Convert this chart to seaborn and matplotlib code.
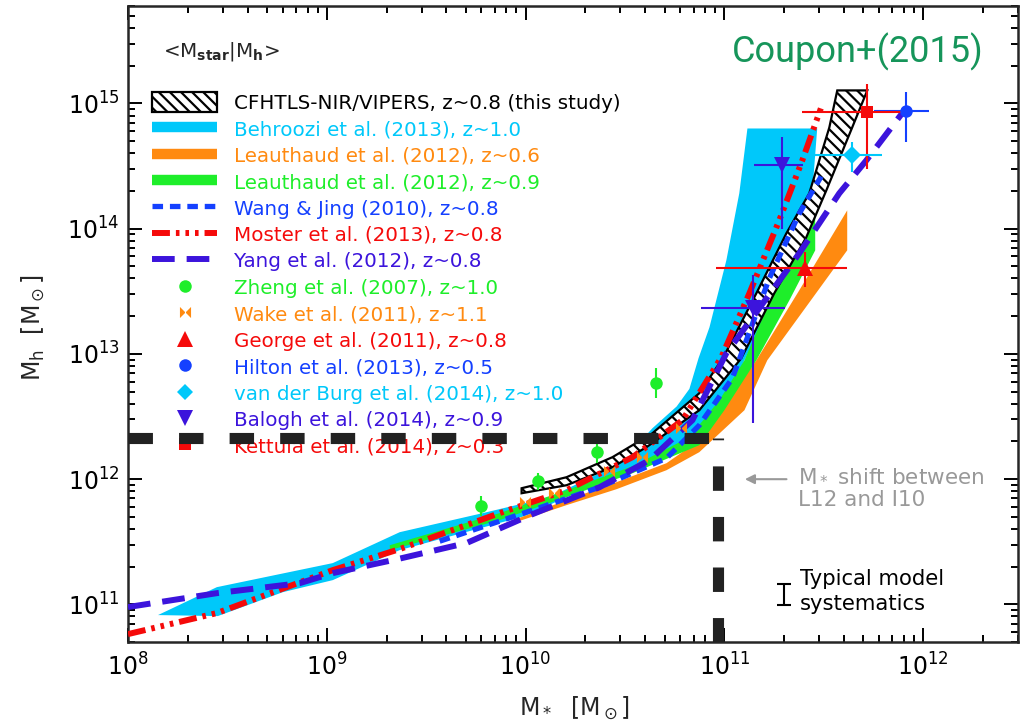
import numpy as np
import pandas as pd
import seaborn as sns
import matplotlib
matplotlib.use("Agg")
import matplotlib.pyplot as plt
from matplotlib.lines import Line2D
from matplotlib.patches import Patch
from matplotlib.path import Path

# all values are log10(M / Msun)

# bands: upper (left) edge going up in mass, then lower (right) edge coming back down
behroozi_logms = [8.151, 8.447, 9.030, 9.367, 9.784, 10.121, 10.372, 10.538, 10.638, 10.760, 10.824,
                  10.870, 10.925, 11.010, 11.075, 11.116, 11.467,
                  11.442, 11.377, 11.251, 11.101, 10.985, 10.874, 10.673, 10.372, 9.995,
                  9.367, 9.030, 8.779, 8.452]
behroozi_logmh = [10.914, 11.137, 11.329, 11.576, 11.728, 11.856, 12.047, 12.231, 12.406, 12.580, 12.720,
                  12.965, 13.212, 13.747, 14.282, 14.800, 14.800,
                  14.282, 13.907, 13.428, 12.949, 12.550, 12.310, 12.175, 11.975, 11.704,
                  11.433, 11.193, 11.097, 10.906]

leau06_logms = [9.869, 10.206, 10.457, 10.709, 10.874, 11.161, 11.377, 11.618,
                11.618, 11.216, 11.101, 10.874, 10.709, 10.457, 10.206, 9.869]
leau06_logmh = [11.630, 11.832, 11.975, 12.127, 12.310, 12.949, 13.508, 14.146,
                13.827, 12.949, 12.550, 12.215, 12.071, 11.919, 11.792, 11.612]

leau09_logms = [9.317, 9.869, 10.206, 10.538, 10.824, 10.975, 11.101, 11.251, 11.437, 11.457,
                11.457, 11.327, 11.161, 11.000, 10.874, 10.538, 10.206, 9.869, 9.317]
leau09_logmh = [11.472, 11.728, 11.911, 12.103, 12.334, 12.630, 12.949, 13.508, 14.170, 14.170,
                13.827, 13.428, 12.949, 12.550, 12.271, 12.047, 11.856, 11.672, 11.433]

cfhtls_logms = [9.980, 10.206, 10.437, 10.638, 10.874, 10.995, 11.161, 11.312, 11.427, 11.528, 11.568,
                11.719, 11.643, 11.513, 11.412, 11.251, 11.085, 10.874, 10.608, 10.437, 10.206, 9.980]
cfhtls_logmh = [11.927, 12.015, 12.175, 12.366, 12.686, 12.973, 13.484, 13.963, 14.282, 14.808, 15.104,
                15.104, 14.808, 14.306, 13.931, 13.484, 12.965, 12.550, 12.255, 12.095, 11.951, 11.887]

# model curves
moster_logms = [8.0, 8.447, 9.030, 9.367, 9.869, 10.206, 10.538, 10.789, 10.985, 11.126, 11.276, 11.392, 11.487]
moster_logmh = [10.762, 10.930, 11.273, 11.441, 11.728, 11.911, 12.175, 12.470, 12.973, 13.484, 14.066, 14.545, 14.968]

wang_logms = [9.568, 10.035, 10.372, 10.709, 10.874, 11.040, 11.226, 11.377, 11.487]
wang_logmh = [11.504, 11.752, 11.935, 12.167, 12.430, 12.805, 13.603, 14.122, 14.417]

yang_logms = [8.0, 8.447, 8.864, 9.030, 9.367, 9.704, 10.035, 10.372, 10.623, 10.839, 11.010, 11.377, 11.578, 11.714, 11.905]
yang_logmh = [10.978, 11.089, 11.169, 11.249, 11.365, 11.490, 11.720, 11.935, 12.151, 12.470, 13.005, 13.803, 14.282, 14.545, 14.944]

# measurements
zheng_logms = [9.774, 10.060, 10.357, 10.658]
zheng_logmh = [11.784, 11.983, 12.215, 12.765]
zheng_logmh_lo = [11.704, 11.911, 12.127, 12.646]
zheng_logmh_hi = [11.864, 12.047, 12.310, 12.885]

wake_logms = [9.995, 10.141, 10.422, 10.588, 10.784]
wake_logmh = [11.816, 11.888, 12.063, 12.175, 12.406]

george_logms, george_logms_lo, george_logms_hi = [11.407], [10.960], [11.618]
george_logmh, george_logmh_lo, george_logmh_hi = [13.683], [13.532], [13.811]

hilton_logms, hilton_logms_lo, hilton_logms_hi = [11.915], [11.754], [12.030]
hilton_logmh, hilton_logmh_lo, hilton_logmh_hi = [14.936], [14.689], [15.088]

vdb_logms, vdb_logms_lo, vdb_logms_hi = [11.643], [11.442], [11.794]
vdb_logmh, vdb_logmh_lo, vdb_logmh_hi = [14.585], [14.449], [14.689]

balogh_logms, balogh_logms_lo, balogh_logms_hi = [11.146, 11.291], [10.884, 11.151], [11.307, 11.397]
balogh_logmh, balogh_logmh_lo, balogh_logmh_hi = [13.364, 14.505], [12.446, 13.994], [13.627, 14.729]

kettula_logms, kettula_logms_lo, kettula_logms_hi = [11.719], [11.392], [11.894]
kettula_logmh, kettula_logmh_lo, kettula_logmh_hi = [14.928], [14.473], [15.152]

# typical model systematics bar
sys_logms = [11.302]
sys_logmh = [11.078]
sys_err_dex = 0.083

# M* shift between L12 and I10
shift_logms = 10.967
shift_logmh = 12.326

labels = ['CFHTLS-NIR/VIPERS, z~0.8 (this study)',
          'Behroozi et al. (2013), z~1.0',
          'Leauthaud et al. (2012), z~0.6',
          'Leauthaud et al. (2012), z~0.9',
          'Wang & Jing (2010), z~0.8',
          'Moster et al. (2013), z~0.8',
          'Yang et al. (2012), z~0.8',
          'Zheng et al. (2007), z~1.0',
          'Wake et al. (2011), z~1.1',
          'George et al. (2011), z~0.8',
          'Hilton et al. (2013), z~0.5',
          'van der Burg et al. (2014), z~1.0',
          'Balogh et al. (2014), z~0.9',
          'Kettula et al. (2014), z~0.3']

CYAN = '#00C8FA'
ORANGE = '#FF8A10'
GREEN = '#1EEE2A'
BLUE = '#1440FF'
RED = '#F50A0A'
INDIGO = '#3C14DC'

sns.set_style("ticks")
plt.rcParams['font.family'] = ['DejaVu Sans']
plt.rcParams['hatch.linewidth'] = 1.6
plt.rcParams['mathtext.default'] = 'regular'

fig = plt.figure(figsize=(10.28, 7.26), dpi=100)
ax = fig.add_axes([128 / 1028, 1 - 642 / 726, 890 / 1028, 636 / 726])
ax.set_xscale('log')
ax.set_yscale('log')


def lin(v):
    return 10 ** np.asarray(v, dtype=float)


# bands
ax.fill(lin(behroozi_logms), lin(behroozi_logmh), color=CYAN, lw=0, zorder=1)
ax.fill(lin(leau06_logms), lin(leau06_logmh), color=ORANGE, lw=0, zorder=2)
ax.fill(lin(leau09_logms), lin(leau09_logmh), color=GREEN, lw=0, zorder=2)
ax.fill(lin(cfhtls_logms), lin(cfhtls_logmh), facecolor='white', edgecolor='black',
        hatch='\\\\\\', lw=1.6, zorder=3)

# model lines
moster_style = (0, (3, 1, 0.6, 1, 0.6, 1, 0.6, 1))
wang_style = (0, (2, 1.3))
yang_style = (0, (3.8, 2))
for lms, lmh, col, sty, lw in [(moster_logms, moster_logmh, RED, moster_style, 4.3),
                                (wang_logms, wang_logmh, BLUE, wang_style, 3.8),
                                (yang_logms, yang_logmh, INDIGO, yang_style, 4.3)]:
    df = pd.DataFrame({'ms': lin(lms), 'mh': lin(lmh)})
    sns.lineplot(data=df, x='ms', y='mh', ax=ax, color=col, lw=lw, linestyle=sty,
                 estimator=None, sort=False, legend=False, zorder=4)


def points(lms, lmh, col, marker, size, ms_lo=None, ms_hi=None, mh_lo=None, mh_hi=None):
    x, y = lin(lms), lin(lmh)
    xerr = None if ms_lo is None else [x - lin(ms_lo), lin(ms_hi) - x]
    yerr = None if mh_lo is None else [y - lin(mh_lo), lin(mh_hi) - y]
    ax.errorbar(x, y, xerr=xerr, yerr=yerr, fmt=marker, color=col, ms=size, mew=0,
                elinewidth=1.5, capsize=5, capthick=1.5, zorder=5)


bowtie = Path([(-1, -1), (1, 1), (1, -1), (-1, 1), (-1, -1)])

points(zheng_logms, zheng_logmh, GREEN, 'o', 9, mh_lo=zheng_logmh_lo, mh_hi=zheng_logmh_hi)
ax.plot(lin(wake_logms), lin(wake_logmh), ls='none', marker=bowtie, ms=8, color=ORANGE, mew=0, zorder=5)
points(george_logms, george_logmh, RED, '^', 11, george_logms_lo, george_logms_hi, george_logmh_lo, george_logmh_hi)
points(hilton_logms, hilton_logmh, BLUE, 'o', 9, hilton_logms_lo, hilton_logms_hi, hilton_logmh_lo, hilton_logmh_hi)
points(kettula_logms, kettula_logmh, RED, 's', 9, kettula_logms_lo, kettula_logms_hi, kettula_logmh_lo, kettula_logmh_hi)
points(vdb_logms, vdb_logmh, CYAN, 'D', 9, vdb_logms_lo, vdb_logms_hi, vdb_logmh_lo, vdb_logmh_hi)
points(balogh_logms, balogh_logmh, INDIGO, 'v', 12, balogh_logms_lo, balogh_logms_hi, balogh_logmh_lo, balogh_logmh_hi)

# systematics bar
ax.errorbar(lin(sys_logms), lin(sys_logmh),
            yerr=[lin(sys_logmh) - lin(np.array(sys_logmh) - sys_err_dex),
                  lin(np.array(sys_logmh) + sys_err_dex) - lin(sys_logmh)],
            fmt='none', color='black', elinewidth=1.5, capsize=5, capthick=1.5, zorder=5)

xmin, xmax = 1e8, 3e12
ymin, ymax = 5e10, 6e15
ax.set_xlim(xmin, xmax)
ax.set_ylim(ymin, ymax)

# thick black dashed lines
ax.plot([xmin, 10 ** shift_logms], [10 ** shift_logmh] * 2, color='#222222', lw=8,
        linestyle=(0, (2.2, 2.35)), solid_capstyle='butt', dash_capstyle='butt', zorder=7)
ax.plot([10 ** shift_logms] * 2, [ymin, 10 ** shift_logmh], color='#222222', lw=8,
        linestyle=(0, (2.2, 2.35)), solid_capstyle='butt', dash_capstyle='butt', zorder=7)

# legend
band_kw = dict(lw=7.5, solid_capstyle='butt')
handles = [Patch(facecolor='white', edgecolor='black', hatch='\\\\\\', lw=1.6),
           Line2D([], [], color=CYAN, **band_kw),
           Line2D([], [], color=ORANGE, **band_kw),
           Line2D([], [], color=GREEN, **band_kw),
           Line2D([], [], color=BLUE, lw=3.8, linestyle=wang_style, dash_capstyle='butt'),
           Line2D([], [], color=RED, lw=4.3, linestyle=moster_style, dash_capstyle='butt'),
           Line2D([], [], color=INDIGO, lw=4.3, linestyle=yang_style, dash_capstyle='butt'),
           Line2D([], [], color=GREEN, marker='o', ls='none', ms=9, mew=0),
           Line2D([], [], color=ORANGE, marker=bowtie, ls='none', ms=8, mew=0),
           Line2D([], [], color=RED, marker='^', ls='none', ms=11, mew=0),
           Line2D([], [], color=BLUE, marker='o', ls='none', ms=9, mew=0),
           Line2D([], [], color=CYAN, marker='D', ls='none', ms=8, mew=0),
           Line2D([], [], color=INDIGO, marker='v', ls='none', ms=11, mew=0),
           Line2D([], [], color=RED, marker='s', ls='none', ms=9, mew=0)]
text_colors = ['black', CYAN, ORANGE, GREEN, BLUE, RED, INDIGO,
               GREEN, ORANGE, RED, BLUE, CYAN, INDIGO, RED]
leg = ax.legend(handles, labels, loc='upper left', bbox_to_anchor=(0.027, 0.864),
                frameon=False, fontsize=14.3, borderpad=0, borderaxespad=0,
                handlelength=3.27, handleheight=1.1, handletextpad=0.85,
                labelspacing=0.31, numpoints=1, labelcolor=text_colors)
leg.set_zorder(6)

ax.text(0.039, 0.928, r'<M$_{\bf star}$|M$_{\bf h}$>', transform=ax.transAxes,
        fontsize=14.3, va='center', ha='left')
ax.text(0.961, 0.928, 'Coupon+(2015)', transform=ax.transAxes, fontsize=26,
        color='#16955A', va='center', ha='right', family=['Roboto', 'Liberation Sans'])

ax.text(0.753, 0.243, 'M$_*$ shift between\nL12 and I10', transform=ax.transAxes,
        fontsize=15.5, color='#999999', va='center', ha='left', linespacing=1.3)
ax.annotate('', xy=(0.690, 0.256), xytext=(0.743, 0.256), xycoords='axes fraction',
            arrowprops=dict(arrowstyle='-|>', color='#999999', lw=1.5, mutation_scale=14))
ax.text(0.755, 0.080, 'Typical model\nsystematics', transform=ax.transAxes,
        fontsize=15.2, color='black', va='center', ha='left', linespacing=1.3)

# axes styling
for s in ax.spines.values():
    s.set_linewidth(1.8)
ax.tick_params(which='both', direction='in', top=True, right=True, width=1.4, colors='black')
ax.tick_params(which='major', length=10, labelsize=17, pad=8)
ax.tick_params(axis='y', which='major', pad=6)
ax.tick_params(which='minor', length=5)
ax.set_xlabel(r'M$_*$  [M$_\odot$]', fontsize=17)
ax.set_ylabel(r'M$_{\rm h}$  [M$_\odot$]', fontsize=17)
ax.xaxis.set_label_coords(0.502, -0.082)
ax.yaxis.set_label_coords(-0.091, 0.495)

fig.savefig('out.png', dpi=100)
